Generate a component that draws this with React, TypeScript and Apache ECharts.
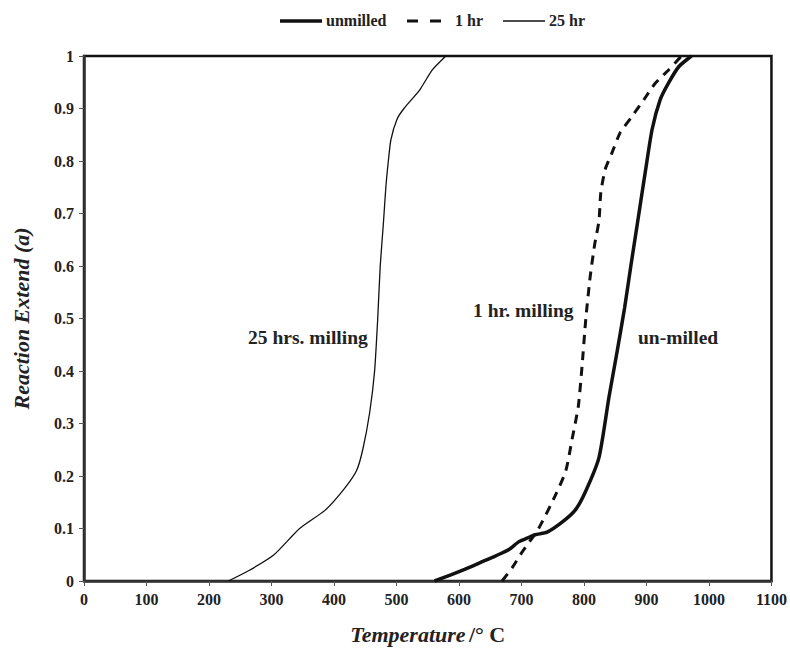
import React, { useEffect, useRef } from "react";
import * as echarts from "echarts";

const seriesNames = ["unmilled", "1 hr", "25 hr"];

const unmilledT = [561, 588, 609, 634, 659, 680, 696, 710, 722, 741, 765, 786, 802, 824, 840, 852, 865, 875, 885, 898, 909, 922, 935, 952, 972];
const unmilledA = [0, 0.012, 0.022, 0.035, 0.048, 0.06, 0.075, 0.082, 0.088, 0.093, 0.112, 0.135, 0.169, 0.235, 0.35, 0.43, 0.52, 0.6, 0.677, 0.778, 0.86, 0.917, 0.948, 0.98, 1.0];

const oneHrT = [669, 685, 701, 727, 755, 771, 781, 791, 797, 803, 810, 817, 824, 827, 834, 845, 858, 877, 896, 914, 935, 956];
const oneHrA = [0, 0.025, 0.055, 0.099, 0.165, 0.21, 0.27, 0.333, 0.41, 0.5, 0.58, 0.64, 0.686, 0.74, 0.784, 0.816, 0.854, 0.885, 0.917, 0.948, 0.973, 1.0];

const hr25T = [231, 264, 304, 345, 386, 416, 436, 446, 457, 465, 470, 474, 479, 483, 487, 491, 501, 512, 537, 557, 579];
const hr25A = [0, 0.02, 0.05, 0.1, 0.135, 0.175, 0.21, 0.25, 0.32, 0.4, 0.5, 0.6, 0.68, 0.75, 0.8, 0.84, 0.88, 0.9, 0.935, 0.973, 1.0];

const xTicks = { min: 0, max: 1100, interval: 100 };
const yTicks = { min: 0, max: 1, interval: 0.1 };

const annotations = ["25 hrs. milling", "1 hr. milling", "un-milled"];

const FONT = "'Liberation Serif', 'DejaVu Serif', serif";

function pairs(xs: number[], ys: number[]) {
  return xs.map((x, i) => [x, ys[i]]);
}

export default function App() {
  const ref = useRef<HTMLDivElement>(null);
  useEffect(() => {
    if (!ref.current) return;
    const chart = echarts.init(ref.current, undefined, { renderer: "svg" });
    const labelStyle = { fontFamily: FONT, fontWeight: "bold" as const, fontSize: 16, color: "#222" };
    const legendText = { fontFamily: FONT, fontWeight: "bold", fontSize: 16, fill: "#222" };
    const annText = { fontFamily: FONT, fontWeight: "bold", fontSize: 19.5, fill: "#222" };
    const ly = 21;
    chart.setOption({
      animation: false,
      backgroundColor: "#fff",
      grid: {
        left: 84,
        right: 17,
        top: 56,
        bottom: 66,
        show: true,
        borderColor: "#111",
        borderWidth: 2.5,
        backgroundColor: "#fff",
      },
      xAxis: {
        type: "value",
        min: xTicks.min,
        max: xTicks.max,
        interval: xTicks.interval,
        splitLine: { show: false },
        axisLine: { lineStyle: { color: "#333", width: 2.5 } },
        axisTick: { show: true, inside: false, length: 5, lineStyle: { color: "#555", width: 1 } },
        axisLabel: { ...labelStyle, margin: 10, formatter: (v: number) => String(v) },
        name: "{i|Temperature} {n|/° C}",
        nameLocation: "middle",
        nameGap: 42,
        nameTextStyle: {
          rich: {
            i: { fontFamily: FONT, fontWeight: "bold", fontStyle: "italic", fontSize: 22, color: "#222" },
            n: { fontFamily: FONT, fontWeight: "bold", fontSize: 22, color: "#222" },
          },
        },
      },
      yAxis: {
        type: "value",
        min: yTicks.min,
        max: yTicks.max,
        interval: yTicks.interval,
        splitLine: { show: false },
        axisLine: { lineStyle: { color: "#333", width: 2.5 } },
        axisTick: { show: true, inside: false, length: 5, lineStyle: { color: "#555", width: 1 } },
        axisLabel: { ...labelStyle, margin: 10 },
        name: "Reaction Extend (a)",
        nameLocation: "middle",
        nameGap: 52,
        nameTextStyle: { fontFamily: FONT, fontWeight: "bold", fontStyle: "italic", fontSize: 22, color: "#222" },
      },
      series: [
        {
          name: seriesNames[0],
          type: "line",
          symbol: "none",
          smooth: 0.2,
          data: pairs(unmilledT, unmilledA),
          lineStyle: { color: "#111", width: 3.5 },
          z: 3,
        },
        {
          name: seriesNames[1],
          type: "line",
          symbol: "none",
          smooth: 0.2,
          data: pairs(oneHrT, oneHrA),
          lineStyle: { color: "#111", width: 3, type: [9, 7] },
          z: 2,
        },
        {
          name: seriesNames[2],
          type: "line",
          symbol: "none",
          smooth: 0.2,
          data: pairs(hr25T, hr25A),
          lineStyle: { color: "#111", width: 1.3 },
          z: 2,
        },
      ],
      graphic: [
        { type: "line", shape: { x1: 280, y1: ly, x2: 322, y2: ly }, style: { stroke: "#111", lineWidth: 3.5 } },
        { type: "text", left: 326, top: ly - 9, style: { text: seriesNames[0], ...legendText } },
        { type: "line", shape: { x1: 407, y1: ly, x2: 441, y2: ly }, style: { stroke: "#111", lineWidth: 3, lineDash: [11, 12] } },
        { type: "text", left: 455, top: ly - 9, style: { text: seriesNames[1], ...legendText } },
        { type: "line", shape: { x1: 503, y1: ly, x2: 545, y2: ly }, style: { stroke: "#111", lineWidth: 1.3 } },
        { type: "text", left: 549, top: ly - 9, style: { text: seriesNames[2], ...legendText } },
        { type: "text", left: 248, top: 327, style: { text: annotations[0], ...annText } },
        { type: "text", left: 473, top: 300, style: { text: annotations[1], ...annText } },
        { type: "text", left: 638, top: 327, style: { text: annotations[2], ...annText } },
      ],
    });
    return () => chart.dispose();
  }, []);
  return <div ref={ref} style={{ width: 790, height: 650, position: "absolute", left: 0, top: 0 }} />;
}
